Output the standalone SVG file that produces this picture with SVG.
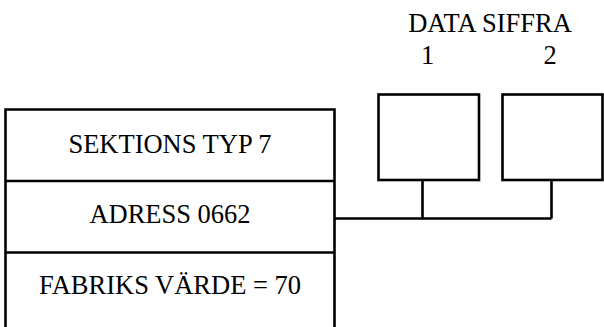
<svg xmlns="http://www.w3.org/2000/svg" width="604" height="327" viewBox="0 0 604 327">
<style>
.b{fill:none;stroke:#000;stroke-width:2.6}
.t{font-family:"Liberation Serif","Times New Roman",serif;font-size:26.5px;fill:#000;text-anchor:middle}
</style>
<rect width="604" height="327" fill="#fff"/>
<g id="sektion">
<path class="b" d="M5.5,330 V109.5 H334.5 V330"/>
<line class="b" x1="5.5" y1="181" x2="334.5" y2="181"/>
<line class="b" x1="5.5" y1="252.5" x2="334.5" y2="252.5"/>
<text class="t" x="170" y="153">SEKTIONS TYP 7</text>
<text class="t" x="170" y="223">ADRESS 0662</text>
<text class="t" x="170" y="293.5">FABRIKS VÄRDE = 70</text>
</g>
<g id="rubrik">
<text class="t" x="490" y="31.5">DATA SIFFRA</text>
</g>
<g id="siffra1">
<rect class="b" x="378.5" y="94.5" width="100.5" height="85.5"/>
<text class="t" x="427.5" y="63.5">1</text>
</g>
<g id="siffra2">
<rect class="b" x="502.5" y="94.5" width="100" height="85.5"/>
<text class="t" x="550" y="63.5">2</text>
</g>
<g id="connectors">
<path class="b" d="M334.5,218.5 H551.5 M422.5,180 V218.5 M551.5,180 V218.5"/>
</g>
</svg>
